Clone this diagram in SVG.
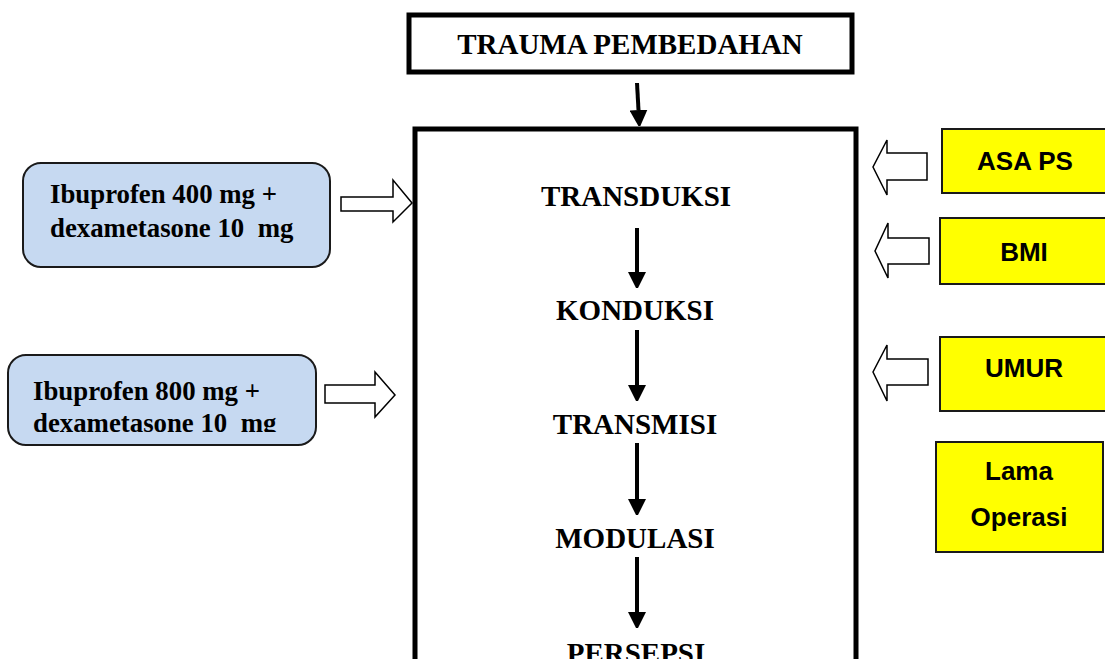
<svg xmlns="http://www.w3.org/2000/svg" width="1105" height="659" viewBox="0 0 1105 659">
<style>
.bx{fill:#fff;stroke:#000;stroke-width:5}
.blue{fill:#c6d9f1;stroke:#1a1a1a;stroke-width:2}
.yel{fill:#ffff00;stroke:#1a1a1a;stroke-width:2}
.tt{font-family:"Liberation Serif","Times New Roman",serif;font-weight:bold;font-size:29px;fill:#000;text-anchor:middle}
.lt{font-family:"Liberation Serif","Times New Roman",serif;font-weight:bold;font-size:26.8px;fill:#000;white-space:pre}
.st{font-family:"Liberation Sans",Arial,sans-serif;font-weight:bold;font-size:26px;fill:#000;text-anchor:middle}
.ln{stroke:#000;stroke-width:4;fill:none}
.blk{fill:#fff;stroke:#000;stroke-width:1.5}
</style>
<defs>
<marker id="ah" markerWidth="16" markerHeight="18" refX="0" refY="9" orient="auto" markerUnits="userSpaceOnUse">
<path d="M0,0 L18,9 L0,18 Z" fill="#000"/>
</marker>
<clipPath id="c2"><rect x="8" y="355" width="310" height="77"/></clipPath>
</defs>
<rect width="1105" height="659" fill="#fff"/>

<g id="trauma">
<rect class="bx" x="409" y="15" width="443" height="57"/>
<text class="tt" x="630" y="54">TRAUMA PEMBEDAHAN</text>
</g>

<g id="main">
<rect class="bx" x="415" y="129" width="441" height="560"/>
<text class="tt" x="636" y="206">TRANSDUKSI</text>
<text class="tt" x="635" y="320">KONDUKSI</text>
<text class="tt" x="635" y="434">TRANSMISI</text>
<text class="tt" x="635" y="548">MODULASI</text>
<text class="tt" x="636" y="663">PERSEPSI</text>
</g>

<g id="ibu400">
<rect class="blue" x="23" y="163" width="307" height="104" rx="18"/>
<text class="lt" x="50" y="203">Ibuprofen 400 mg +</text>
<text class="lt" x="50" y="237">dexametasone 10  mg</text>
</g>

<g id="ibu800">
<rect class="blue" x="8" y="355" width="308" height="90" rx="18"/>
<g clip-path="url(#c2)">
<text class="lt" x="33" y="400">Ibuprofen 800 mg +</text>
<text class="lt" x="33" y="432">dexametasone 10  mg</text>
</g>
</g>

<g id="asaps">
<rect class="yel" x="942" y="129" width="170" height="64"/>
<text class="st" x="1025" y="170">ASA PS</text>
</g>
<g id="bmi">
<rect class="yel" x="940" y="218" width="170" height="66"/>
<text class="st" x="1024" y="261">BMI</text>
</g>
<g id="umur">
<rect class="yel" x="940" y="337" width="170" height="74"/>
<text class="st" x="1024" y="377">UMUR</text>
</g>
<g id="lama">
<rect class="yel" x="936" y="442" width="167" height="110"/>
<text class="st" x="1019" y="480">Lama</text>
<text class="st" x="1019" y="526">Operasi</text>
</g>

<g id="connectors">
<line class="ln" x1="637" y1="83" x2="638.5" y2="110" marker-end="url(#ah)"/>
<line class="ln" x1="637" y1="228" x2="637" y2="272" marker-end="url(#ah)"/>
<line class="ln" x1="637" y1="330" x2="637" y2="385" marker-end="url(#ah)"/>
<line class="ln" x1="637" y1="443" x2="637" y2="499" marker-end="url(#ah)"/>
<line class="ln" x1="637" y1="557" x2="637" y2="612" marker-end="url(#ah)"/>
<path class="blk" d="M341,197 L393,197 L393,180 L412,203 L393,222 L393,211 L341,211 Z"/>
<path class="blk" d="M325,385 L375,385 L375,372 L395,395 L375,417 L375,403 L325,403 Z"/>
<path class="blk" d="M927,153 L887,153 L887,140 L873,167 L887,195 L887,180 L927,180 Z"/>
<path class="blk" d="M929,238 L888,238 L888,223 L875,251 L888,278 L888,264 L929,264 Z"/>
<path class="blk" d="M928,359 L887,359 L887,345 L873,372 L887,401 L887,385 L928,385 Z"/>
</g>
</svg>
